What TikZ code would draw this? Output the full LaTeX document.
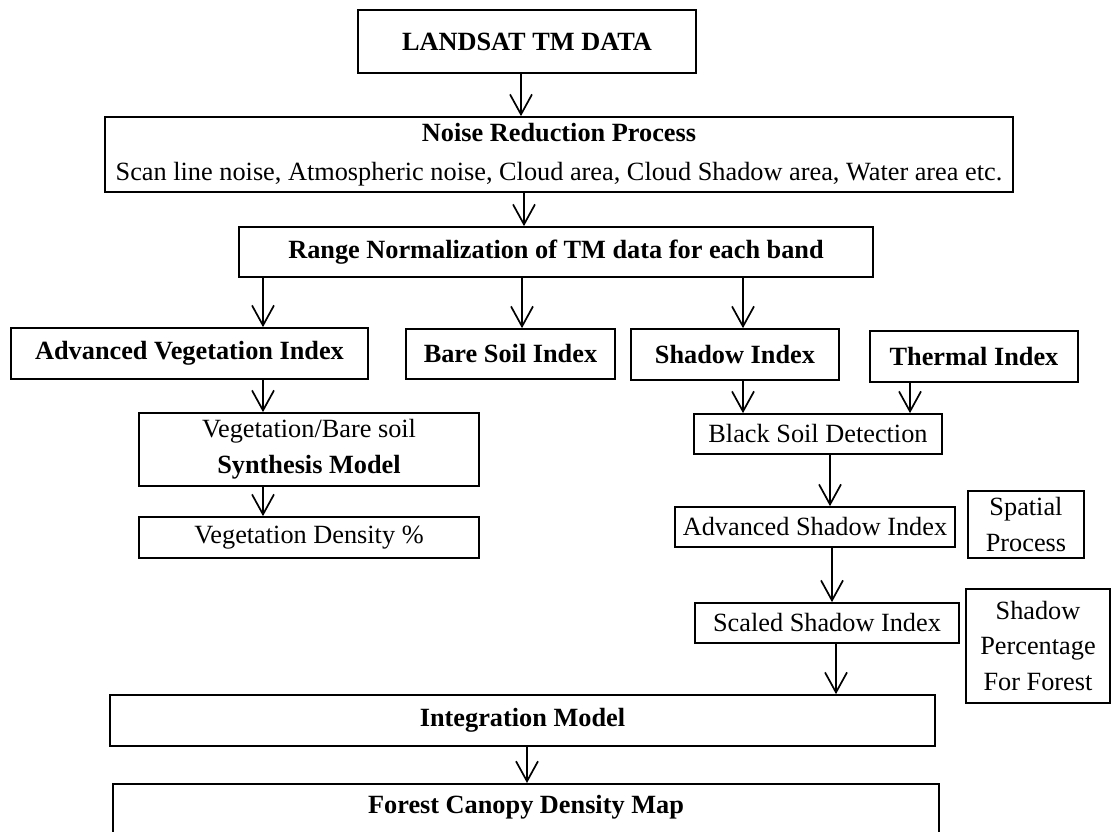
\documentclass[tikz,border=0pt]{standalone}
\usepackage{fontspec}
\setmainfont{Liberation Serif}
\usetikzlibrary{arrows.meta}
\begin{document}
\begin{tikzpicture}[x=1pt,y=-1pt,
  box/.style={draw, line width=1.7pt, inner sep=0pt, align=center, font=\fontsize{26.3}{36}\selectfont},
  arr/.style={line width=1.7pt, -{Straight Barb[length=20pt,width=22pt]}}]
\useasboundingbox (0,0) rectangle (1112,832);
\clip (0,0) rectangle (1112,832);
\node[box, minimum width=338, minimum height=63] (lands) at (527,41.5) {\textbf{LANDSAT TM DATA}};
\node[box, minimum width=908, minimum height=75] (noise) at (559,154.5) {\textbf{Noise Reduction Process}\\[3pt]Scan line noise, Atmospheric noise, Cloud area, Cloud Shadow area, Water area etc.};
\node[box, minimum width=634, minimum height=50] (range) at (556,252) {\textbf{Range Normalization of TM data for each band}};
\node[box, minimum width=357, minimum height=51] (avi) at (189.5,353.5) {\textbf{Advanced Vegetation Index}};
\node[box, minimum width=209, minimum height=50] (bsi) at (510.5,354) {\textbf{Bare Soil Index}};
\node[box, minimum width=208, minimum height=51] (shi) at (735,354.5) {\textbf{Shadow Index}};
\node[box, minimum width=208, minimum height=51] (thi) at (974,356.5) {\textbf{Thermal Index}};
\node[box, minimum width=340, minimum height=73] (syn) at (309,449.5) {Vegetation/Bare soil\\\textbf{Synthesis Model}};
\node[box, minimum width=340, minimum height=41] (vd) at (309,537.5) {Vegetation Density \%};
\node[box, minimum width=248, minimum height=40] (bsd) at (818,434) {Black Soil Detection};
\node[box, minimum width=280, minimum height=40] (asi) at (815,527) {Advanced Shadow Index};
\node[box, minimum width=116, minimum height=67] (spp) at (1026,524.5) {Spatial\\Process};
\node[box, minimum width=264, minimum height=40] (ssi) at (827,623) {Scaled Shadow Index};
\node[box, minimum width=144, minimum height=114] (shp) at (1038,646) {Shadow\\Percentage\\For Forest};
\node[box, minimum width=825, minimum height=51] (intm) at (522.5,720.5) {\textbf{Integration Model}};
\node[box, anchor=north, minimum width=826, text height=25pt, text depth=35pt, inner ysep=5pt] (fcd) at (526,783) {\textbf{Forest Canopy Density Map}};
\coordinate (x1) at (521,0);
\coordinate (x2) at (524,0);
\coordinate (x3) at (263,0);
\coordinate (x4) at (522,0);
\coordinate (x5) at (743,0);
\coordinate (x9) at (910,0);
\coordinate (x10) at (830,0);
\coordinate (x11) at (832,0);
\coordinate (x12) at (836,0);
\coordinate (x13) at (527,0);
\draw[arr] (lands.south -| x1) -- (noise.north -| x1);
\draw[arr] (noise.south -| x2) -- (range.north -| x2);
\draw[arr] (range.south -| x3) -- (avi.north -| x3);
\draw[arr] (range.south -| x4) -- (bsi.north -| x4);
\draw[arr] (range.south -| x5) -- (shi.north -| x5);
\draw[arr] (avi.south -| x3) -- (syn.north -| x3);
\draw[arr] (syn.south -| x3) -- (vd.north -| x3);
\draw[arr] (shi.south -| x5) -- (bsd.north -| x5);
\draw[arr] (thi.south -| x9) -- (bsd.north -| x9);
\draw[arr] (bsd.south -| x10) -- (asi.north -| x10);
\draw[arr] (asi.south -| x11) -- (ssi.north -| x11);
\draw[arr] (ssi.south -| x12) -- (intm.north -| x12);
\draw[arr] (intm.south -| x13) -- (fcd.north -| x13);
\end{tikzpicture}
\end{document}
